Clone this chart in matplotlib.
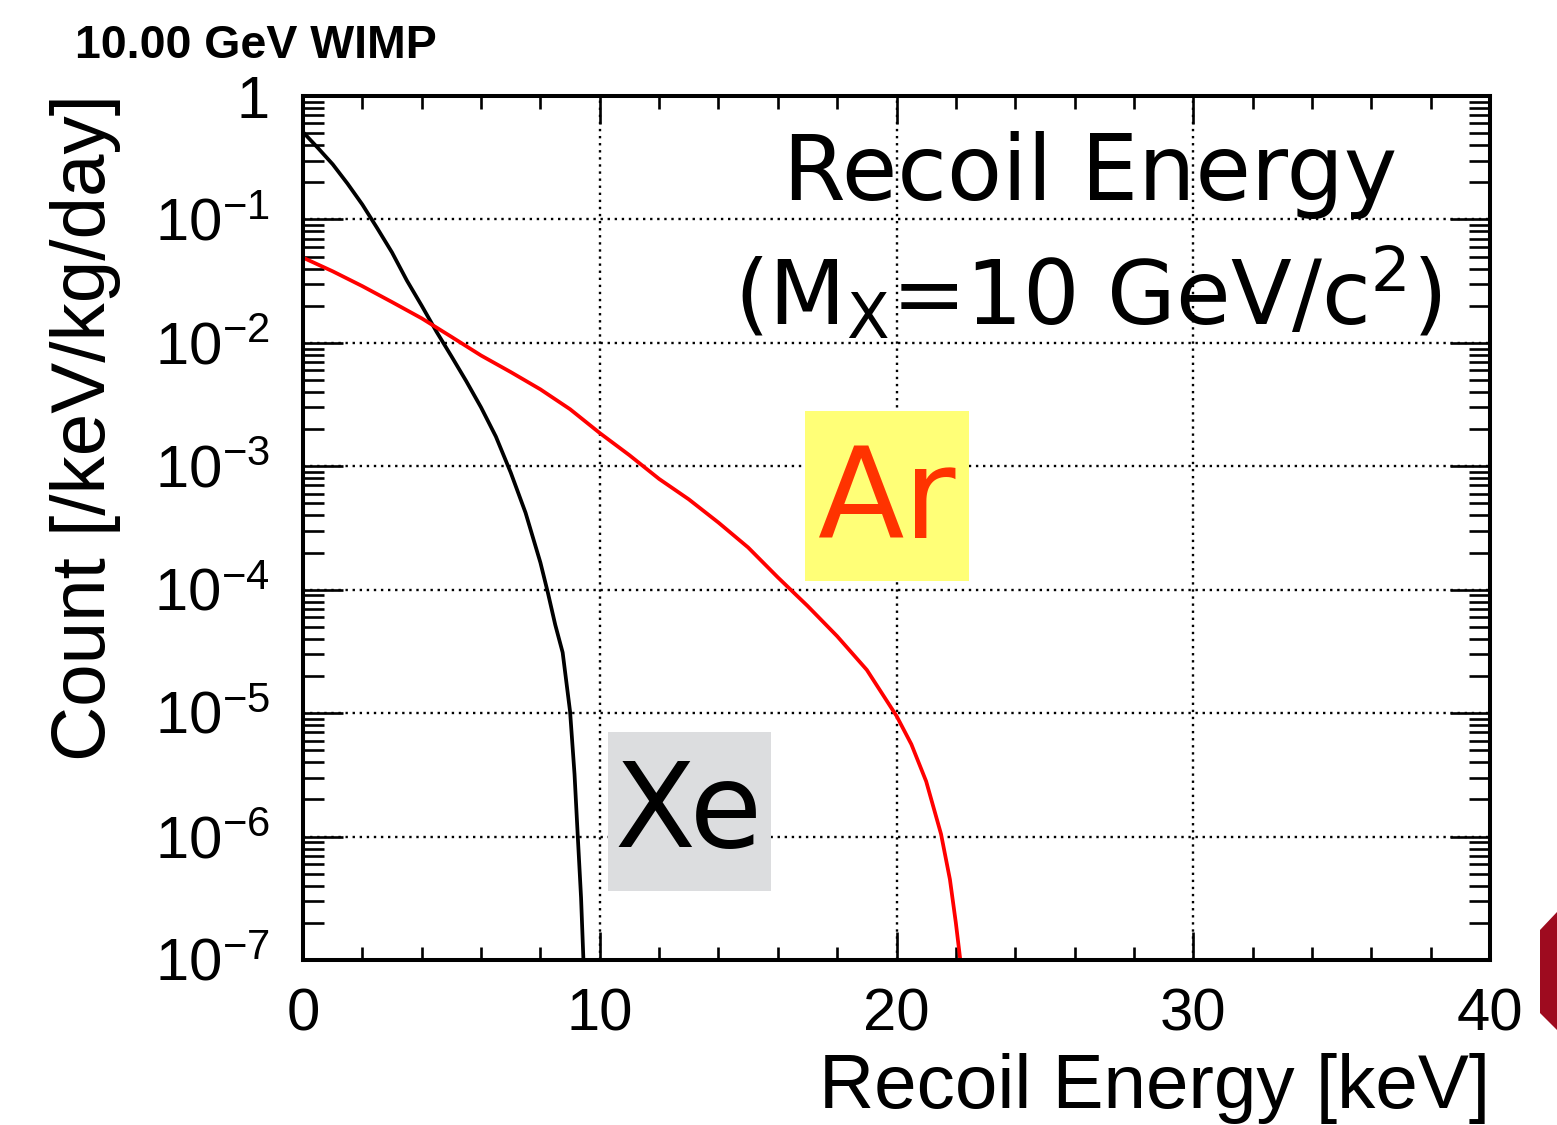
import matplotlib
matplotlib.use("Agg")
import math
import matplotlib.pyplot as plt
from matplotlib.ticker import FixedLocator, LogLocator, MultipleLocator, FuncFormatter, NullFormatter
from matplotlib.patches import Rectangle, Polygon

# ---------------- data ----------------
xe_energy = [0, 0.5, 1, 1.5, 2, 2.5, 3, 3.5, 4, 4.5, 5, 5.5, 6, 6.5, 7, 7.5,
             8, 8.25, 8.5, 8.75, 9.0, 9.15, 9.26, 9.37, 9.45]
xe_count = [0.51, 0.38, 0.28, 0.195, 0.132, 0.085, 0.054, 0.032, 0.020, 0.0123,
            0.0078, 0.0049, 0.0030, 0.00174, 0.00089, 0.00042, 0.000166,
            0.000095, 0.000052, 0.000031, 0.0000103, 0.0000032, 0.0000010,
            0.00000032, 0.0000001]

ar_energy = [0, 1, 2, 3, 4, 5, 6, 7, 8, 9, 10, 11, 12, 13, 14, 15, 16, 17, 18,
             19, 20, 20.5, 21, 21.5, 21.8, 22.0, 22.15]
ar_count = [0.049, 0.038, 0.0288, 0.0214, 0.0158, 0.0112, 0.0079, 0.0058,
            0.0042, 0.0029, 0.00186, 0.00123, 0.00079, 0.00054, 0.00035,
            0.00022, 0.000126, 0.000074, 0.000042, 0.0000224, 0.0000095,
            0.0000056, 0.0000028, 0.00000105, 0.00000045, 0.0000002, 0.0000001]

x_ticks = [0, 10, 20, 30, 40]
y_ticks = [1e-7, 1e-6, 1e-5, 1e-4, 1e-3, 1e-2, 1e-1, 1]

title_text = "10.00 GeV WIMP"
x_label = "Recoil Energy [keV]"
y_label = "Count [/keV/kg/day]"

# ---------------- style ----------------
plt.rcParams['mathtext.fontset'] = 'custom'
plt.rcParams['mathtext.rm'] = 'Liberation Sans'
plt.rcParams['mathtext.it'] = 'Liberation Sans:italic'
plt.rcParams['mathtext.bf'] = 'Liberation Sans:bold'

W, H = 1557, 1125
fig = plt.figure(figsize=(W / 100, H / 100), dpi=100)
fig.patch.set_facecolor('white')

L, R, T, B = 303, 1490, 96, 960
ax = fig.add_axes([L / W, 1 - B / H, (R - L) / W, (B - T) / H])

ax.set_xlim(0, 40)
ax.set_yscale('log')
ax.set_ylim(1e-7, 1)

ax.plot(xe_energy, xe_count, color='black', lw=2.7, zorder=4, solid_joinstyle='round')
ax.plot(ar_energy, ar_count, color='#ff0000', lw=2.7, zorder=4, solid_joinstyle='round')

# grid
ax.grid(True, which='major', color='black', lw=1.7, linestyle=(0, (1, 2.0)), zorder=1)

# ticks
ax.xaxis.set_major_locator(FixedLocator(x_ticks))
ax.xaxis.set_minor_locator(MultipleLocator(2))
ax.yaxis.set_major_locator(FixedLocator(y_ticks))
ax.yaxis.set_minor_locator(LogLocator(base=10, subs=[2, 3, 4, 5, 6, 7, 8, 9], numticks=20))
ax.yaxis.set_minor_formatter(NullFormatter())


def yfmt(v, pos):
    if abs(v - 1) < 1e-12:
        return "1"
    e = int(round(math.log10(v)))
    return r"$\mathregular{10^{%d}}$" % e


ax.yaxis.set_major_formatter(FuncFormatter(yfmt))

ax.tick_params(axis='both', which='both', direction='in', top=True, right=True,
               color='black', width=1.9)
ax.tick_params(axis='x', which='major', length=20, pad=20, labelsize=43)
ax.tick_params(axis='x', which='minor', length=9.5)
ax.tick_params(axis='y', which='major', length=29, pad=24, labelsize=43)
ax.tick_params(axis='y', which='minor', length=15)
for lab in ax.get_xticklabels() + ax.get_yticklabels():
    lab.set_fontfamily('Liberation Sans')

for s in ax.spines.values():
    s.set_linewidth(2.9)
    s.set_zorder(6)

# axis labels
fig.text(1490 / W, 1 - 1108 / H, x_label, ha='right', va='baseline',
         fontsize=55, family='Liberation Sans')
fig.text(86 / W, 1 - 428 / H, y_label, ha='center', va='center', rotation=90,
         fontsize=55, family='Liberation Sans')

# title
fig.text(75 / W, 1 - 58 / H, title_text, ha='left', va='baseline',
         fontsize=33.5, fontweight='bold', family='Liberation Sans')

# annotation text
fig.text(1090 / W, 1 - 200 / H, "Recoil Energy", ha='center', va='baseline',
         fontsize=65, family='DejaVu Sans', zorder=7)
fig.text(1088 / W, 1 - 325 / H, r"(M$_\mathregular{X}$=10 GeV/c$^\mathregular{2}$)",
         ha='center', va='baseline', fontsize=64, family='DejaVu Sans', zorder=7)

# Ar label box
ar_box = Rectangle((16.9, 10 ** -3.93), 22.45 - 16.9, 10 ** -2.55 - 10 ** -3.93,
                   facecolor='#ffff77', edgecolor='none', zorder=3)
ax.add_patch(ar_box)
ax.text(19.65, 10 ** -3.30, "Ar", color='#ff3300', fontsize=91, family='DejaVu Sans',
        ha='center', va='center', zorder=5)

# Xe label box
xe_box = Rectangle((10.28, 10 ** -6.44), 15.77 - 10.28, 10 ** -5.15 - 10 ** -6.44,
                   facecolor='#dcdddf', edgecolor='none', zorder=3)
ax.add_patch(xe_box)
ax.text(13.0, 10 ** -5.82, "Xe", color='black', fontsize=85, family='DejaVu Sans',
        ha='center', va='center', zorder=5)

# logo fragment at right edge
logo = Polygon([(1540 / W, 1 - 930 / H), (1557 / W, 1 - 912 / H),
                (1557 / W, 1 - 1030 / H), (1540 / W, 1 - 1013 / H)],
               closed=True, transform=fig.transFigure, facecolor='#9e0b1f',
               edgecolor='none')
fig.patches.append(logo)

fig.savefig("out.png", dpi=100)
